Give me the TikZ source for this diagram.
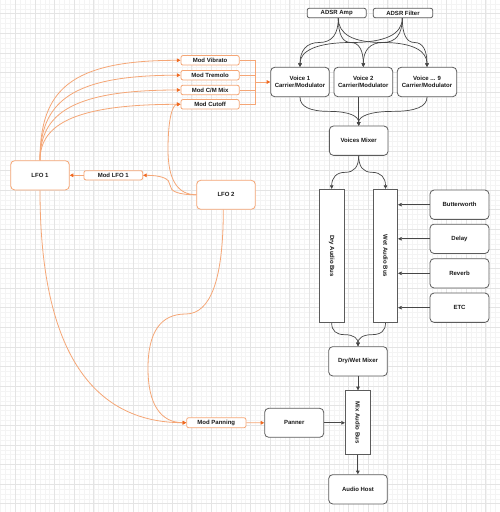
\documentclass[tikz,border=0pt]{standalone}
\usepackage{fontspec}
\setmainfont{Liberation Sans}
\usetikzlibrary{arrows.meta,calc}
\definecolor{gridmaj}{HTML}{E4E4E4}
\definecolor{gridmin}{HTML}{F4F4F4}
\definecolor{edgedark}{HTML}{474747}
\definecolor{boxdark}{HTML}{5C5C5C}
\definecolor{oline}{HTML}{F5A676}
\definecolor{otip}{HTML}{F06A22}
\definecolor{txt}{HTML}{1A1A1A}
\begin{document}
\begin{tikzpicture}[x=1pt,y=-1pt,
  box/.style={draw=boxdark, line width=0.8pt, rounded corners=4pt, fill=white, inner sep=0pt,
    font=\bfseries\fontsize{6}{6.8}\selectfont, text=txt, align=center},
  sbox/.style={box, rounded corners=2pt},
  obox/.style={box, draw=oline, rounded corners=2pt},
  olbox/.style={box, draw=oline, rounded corners=4pt},
  bus/.style={draw=boxdark, line width=0.8pt, fill=white, inner sep=0pt},
  buslbl/.style={rotate=-90, font=\bfseries\fontsize{6}{6.8}\selectfont, text=txt, inner sep=0pt},
  sz/.style 2 args={minimum width=#1, minimum height=#2},
  dedge/.style={draw=edgedark, line width=0.7pt, -{Triangle[length=3.6pt,width=3.6pt]}},
  dline/.style={draw=edgedark, line width=0.7pt},
  oedge/.style={draw=oline, line width=0.8pt, -{Triangle[length=3.6pt,width=3.6pt,color=otip]}},
  oline/.style={draw=oline, line width=0.8pt},
  vhv/.style={to path={let \p1=(\tikztostart),\p2=(\tikztotarget) in
    .. controls (\x1,{\y1+(\y2-\y1)/3}) and ({(\x1+\x2)/2+(\x1-\x2)/3},{(\y1+\y2)/2})
    .. ({(\x1+\x2)/2},{(\y1+\y2)/2})
    .. controls ({(\x1+\x2)/2+(\x2-\x1)/3},{(\y1+\y2)/2}) and (\x2,{\y2+(\y1-\y2)/3})
    .. (\x2,\y2) \tikztonodes}}
]
% background and grid
\useasboundingbox (0,0) rectangle (500,512);
\fill[white] (0,0) rectangle (500,512);
\foreach \i in {0,...,102} {
  \draw[gridmin, line width=0.4pt] ({0.6+4.9*\i},0) -- ({0.6+4.9*\i},512);
  \draw[gridmin, line width=0.4pt] (0,{3.8+4.9*\i}) -- (500,{3.8+4.9*\i});
}
\foreach \i in {0,...,25} {
  \draw[gridmaj, line width=0.6pt] ({15.3+19.6*\i},0) -- ({15.3+19.6*\i},512);
  \draw[gridmaj, line width=0.6pt] (0,{13.6+19.6*\i}) -- (500,{13.6+19.6*\i});
}

% nodes
\node[sbox, sz={59}{9.4}] (adsra) at (336.7,13) {ADSR Amp};
\node[sbox, sz={59.4}{9.4}] (adsrf) at (403,13) {ADSR Filter};
\node[box, sz={58.6}{29.4}] (v1) at (300,82) {Voice 1\\Carrier/Modulator};
\node[box, sz={58.7}{29.4}] (v2) at (363.3,82) {Voice 2\\Carrier/Modulator};
\node[box, sz={59.4}{29.4}] (v9) at (427,82) {Voice ... 9\\Carrier/Modulator};

\node[obox, sz={58.3}{9.5}] (mvib) at (210.1,60.3) {Mod Vibrato};
\node[obox, sz={58.3}{9.5}] (mtrem) at (210.1,75.2) {Mod Tremolo};
\node[obox, sz={58.3}{9.5}] (mcm) at (210.1,90) {Mod C/M Mix};
\node[obox, sz={58.3}{9.5}] (mcut) at (210.1,104.3) {Mod Cutoff};

\node[olbox, sz={58.6}{29.3}] (lfo1) at (40,175.3) {LFO 1};
\node[obox, sz={58.7}{9.3}] (mlfo1) at (113.3,175.3) {Mod LFO 1};
\node[olbox, sz={58.6}{29}] (lfo2) at (226,194.8) {LFO 2};

\node[box, sz={58.7}{29.3}] (vmix) at (358.7,140.7) {Voices Mixer};
\node[bus, sz={24.7}{133.4}] (dry) at (331.7,256) {};
\node[buslbl] (drylbl) at (dry.center) {Dry Audio Bus};
\node[bus, sz={24.4}{133.4}] (wet) at (385.5,256) {};
\node[buslbl] (wetlbl) at (wet.center) {Wet Audio Bus};

\node[box, sz={59}{29.3}] (butter) at (459.5,204.7) {Butterworth};
\node[box, sz={59}{29.3}] (delay) at (459.5,238.8) {Delay};
\node[box, sz={59}{29.3}] (reverb) at (459.5,273.3) {Reverb};
\node[box, sz={59}{29.3}] (etc) at (459.5,307.7) {ETC};

\node[box, sz={58.6}{29.3}] (dwmix) at (358,361.3) {Dry/Wet Mixer};
\node[bus, sz={25}{63.6}] (mixbus) at (357.8,422.5) {};
\node[buslbl] (mixlbl) at (mixbus.center) {Mix Audio Bus};
\node[obox, sz={59.3}{10}] (mpan) at (216.3,422.7) {Mod Panning};
\node[box, sz={59}{29}] (panner) at (294.2,422.8) {Panner};
\node[box, sz={58.6}{29.3}] (host) at (358,489.3) {Audio Host};

% ADSR -> voices
\foreach \t in {v1,v2,v9} {
  \draw[dedge] ([xshift=1.6]adsra.south) to[vhv] (\t.north);
  \draw[dedge] ([xshift=-0.7]adsrf.south) to[vhv] (\t.north);
}
% voices -> mixer
\draw[dedge] (v1.south) to[vhv] (vmix.north);
\draw[dedge] (v2.south -| vmix.north) -- (vmix.north);
\draw[dedge] (v9.south) to[vhv] (vmix.north);
% mixer -> buses
\draw[dedge] (vmix.south) to[vhv] (dry.north);
\draw[dedge] (vmix.south) to[vhv] (wet.north);
% effects -> wet bus
\foreach \e in {butter,delay,reverb,etc}
  \draw[dedge] (\e.west) -- (\e.west -| wet.east);
% buses -> dry/wet
\draw[dedge] (dry.south) to[vhv] (dwmix.north);
\draw[dedge] (wet.south) to[vhv] (dwmix.north);
% output chain
\draw[dedge] (dwmix.south) -- (dwmix.south |- mixbus.north);
\draw[dedge] (panner.east) -- (panner.east -| mixbus.west);
\draw[dedge] (mixbus.south) -- (mixbus.south |- host.north);

% mods -> voice 1
\coordinate (mj) at (255,82);
\foreach \m in {mvib,mtrem,mcm,mcut}
  \draw[oline] (\m.east) -| (mj);
\draw[oedge] (mj) -- (v1.west);

% LFO 1 -> mods
\draw[oedge] (lfo1.north) .. controls (40,90) and (70,60.3) .. (mvib.west);
\draw[oedge] (lfo1.north) .. controls (40,101) and (72,75.2) .. (mtrem.west);
\draw[oedge] (lfo1.north) .. controls (40,112) and (75,90) .. (mcm.west);
\draw[oedge] (lfo1.north) .. controls (40,123) and (78,104.3) .. (mcut.west);
% Mod LFO 1 -> LFO 1
\draw[oedge] (mlfo1.west) -- (lfo1.east);
% LFO 2 -> Mod LFO 1
\draw[oedge] (lfo2.west) .. controls (178.9,194.8) and (170,191.55) .. (170,185.05)
  .. controls (170,178.55) and (160.9,175.3) .. (mlfo1.east);
% LFO 2 -> Mod Cutoff
\draw[oedge] (lfo2.west) .. controls (177.6,194.8) and (168,179.7) .. (168,149.55)
  .. controls (168,119.4) and (172.3,104.3) .. (mcut.west);
% LFO 1 -> Mod Panning
\draw[oedge] (lfo1.south) .. controls (40,345.1) and (88.9,422.7) .. (mpan.west);
% LFO 2 -> Mod Panning
\draw[oedge] ([xshift=-2.7]lfo2.south) .. controls (223.3,279.1) and (210.75,314) .. (185.65,314)
  .. controls (160.55,314) and (148,332.1) .. (148,368.35)
  .. controls (148,404.6) and (160.9,422.7) .. (mpan.west);
% Mod Panning -> Panner
\draw[oedge] (mpan.east) -- (panner.west);
\end{tikzpicture}
\end{document}
